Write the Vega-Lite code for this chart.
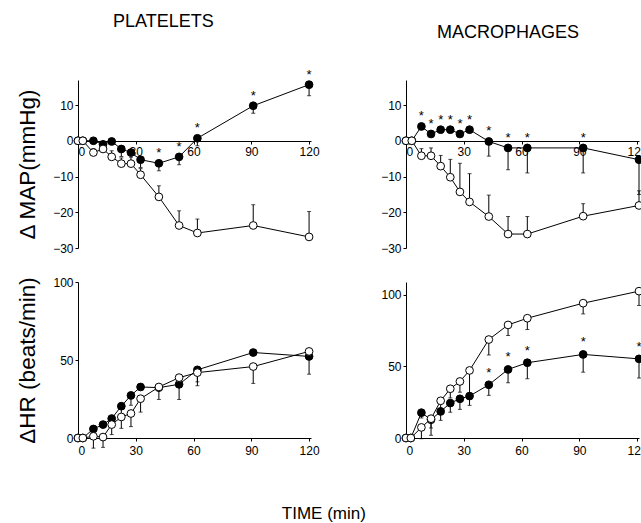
{
  "$schema": "https://vega.github.io/schema/vega-lite/v6.json",
  "padding": {"left": 16, "top": 12, "right": 2, "bottom": 4},
  "background": "white",
  "title": {"text": "TIME (min)", "orient": "bottom", "fontSize": 17, "offset": 50, "anchor": "middle", "dx": -8},
  "config": {
    "view": {"stroke": null},
    "font": "Liberation Sans",
    "axis": {"grid": false, "domainColor": "black", "tickColor": "black", "labelColor": "black", "titleColor": "black",
             "labelFont": "Liberation Sans", "titleFont": "Liberation Sans", "labelFontSize": 12, "titleFontSize": 22.5,
             "titleFontWeight": "normal", "tickSize": 3, "labelPadding": 2, "domainWidth": 1},
    "title": {"font": "Liberation Sans", "fontSize": 18, "fontWeight": "normal", "color": "black"}
  },
  "datasets": {
    "d": [
      {"p":"TL","g":"f","t":0,"v":0},{"p":"TL","g":"f","t":2.5,"v":0},{"p":"TL","g":"f","t":8,"v":0},{"p":"TL","g":"f","t":13,"v":-1},
      {"p":"TL","g":"f","t":17.5,"v":-0.2},{"p":"TL","g":"f","t":22.5,"v":-2.3,"e":-4.4},{"p":"TL","g":"f","t":27.5,"v":-3.3},
      {"p":"TL","g":"f","t":32.5,"v":-5.3,"e":-7.5},{"p":"TL","g":"f","t":42,"v":-6.3,"e":-8.4,"s":"*"},
      {"p":"TL","g":"f","t":52.5,"v":-4.5,"e":-6.7,"s":"*"},{"p":"TL","g":"f","t":62,"v":0.7,"e":-1.4,"s":"*"},
      {"p":"TL","g":"f","t":91,"v":9.8,"e":7.7,"s":"*"},{"p":"TL","g":"f","t":120,"v":15.7,"e":12.6,"s":"*"},
      {"p":"TL","g":"o","t":0,"v":0},{"p":"TL","g":"o","t":2.5,"v":0},{"p":"TL","g":"o","t":8,"v":-3.3,"e":-2.2},{"p":"TL","g":"o","t":13,"v":-2.3},
      {"p":"TL","g":"o","t":17.5,"v":-4.5,"e":-2.8},{"p":"TL","g":"o","t":22.5,"v":-6.4,"e":-4.8},{"p":"TL","g":"o","t":27.5,"v":-6.4,"e":-4.6},
      {"p":"TL","g":"o","t":32.5,"v":-9.5,"e":-7.8},{"p":"TL","g":"o","t":42,"v":-15.7,"e":-12.6},{"p":"TL","g":"o","t":52.5,"v":-23.7,"e":-19.6},
      {"p":"TL","g":"o","t":62,"v":-25.8,"e":-21.9},{"p":"TL","g":"o","t":91,"v":-23.7,"e":-17.9},{"p":"TL","g":"o","t":120,"v":-26.9,"e":-19.8},

      {"p":"TR","g":"f","t":0,"v":0},{"p":"TR","g":"f","t":3,"v":0},{"p":"TR","g":"f","t":8,"v":4.0,"s":"*"},{"p":"TR","g":"f","t":13,"v":1.9,"s":"*"},
      {"p":"TR","g":"f","t":18,"v":3.1,"s":"*"},{"p":"TR","g":"f","t":23,"v":3.1,"s":"*"},{"p":"TR","g":"f","t":28,"v":1.9,"s":"*"},
      {"p":"TR","g":"f","t":33,"v":3.1,"s":"*"},{"p":"TR","g":"f","t":43,"v":-0.2,"e":-4.3,"s":"*"},{"p":"TR","g":"f","t":53,"v":-2.0,"e":-8.1,"s":"*"},
      {"p":"TR","g":"f","t":63,"v":-2.0,"e":-9,"s":"*"},{"p":"TR","g":"f","t":92,"v":-2.0,"e":-9,"s":"*"},{"p":"TR","g":"f","t":121,"v":-5.3,"e":-15},
      {"p":"TR","g":"o","t":0,"v":0},{"p":"TR","g":"o","t":3,"v":0},{"p":"TR","g":"o","t":8,"v":-4.2,"e":-2.2},{"p":"TR","g":"o","t":13,"v":-4.2,"e":-2},
      {"p":"TR","g":"o","t":18,"v":-7.1,"e":-4.1},{"p":"TR","g":"o","t":23,"v":-10.2,"e":-5.2},{"p":"TR","g":"o","t":28,"v":-14.3,"e":-6.3},
      {"p":"TR","g":"o","t":33,"v":-17.1,"e":-9.2},{"p":"TR","g":"o","t":43,"v":-21.2,"e":-15.2},{"p":"TR","g":"o","t":53,"v":-26.1,"e":-21.2},
      {"p":"TR","g":"o","t":63,"v":-26.1,"e":-21.2},{"p":"TR","g":"o","t":92,"v":-21.1,"e":-17.6},{"p":"TR","g":"o","t":121,"v":-18.1,"e":-14},

      {"p":"BL","g":"f","t":0,"v":0},{"p":"BL","g":"f","t":2.5,"v":0},{"p":"BL","g":"f","t":8,"v":5.8},{"p":"BL","g":"f","t":13,"v":8.6},
      {"p":"BL","g":"f","t":17.5,"v":12.5},{"p":"BL","g":"f","t":22.5,"v":20.4,"e":15},{"p":"BL","g":"f","t":27.5,"v":27.3,"e":21},
      {"p":"BL","g":"f","t":32.5,"v":32.7},{"p":"BL","g":"f","t":42,"v":32.3,"e":24.7},{"p":"BL","g":"f","t":52.5,"v":34.4,"e":24.7},
      {"p":"BL","g":"f","t":62,"v":43.7,"e":33.5},{"p":"BL","g":"f","t":91,"v":54.8},{"p":"BL","g":"f","t":120,"v":52.3,"e":40.9},
      {"p":"BL","g":"o","t":0,"v":0},{"p":"BL","g":"o","t":2.5,"v":0},{"p":"BL","g":"o","t":8,"v":1.1,"e":-6.5},{"p":"BL","g":"o","t":13,"v":0.6,"e":-6},
      {"p":"BL","g":"o","t":17.5,"v":8.6,"e":2.2},{"p":"BL","g":"o","t":22.5,"v":13.5,"e":6.2},{"p":"BL","g":"o","t":27.5,"v":15.7,"e":7.3},
      {"p":"BL","g":"o","t":32.5,"v":25.2,"e":16.6},{"p":"BL","g":"o","t":42,"v":32.7},{"p":"BL","g":"o","t":52.5,"v":38.7},
      {"p":"BL","g":"o","t":62,"v":41.9,"e":36},{"p":"BL","g":"o","t":91,"v":45.8,"e":35},{"p":"BL","g":"o","t":120,"v":55.5},

      {"p":"BR","g":"f","t":0,"v":0},{"p":"BR","g":"f","t":2.5,"v":0},{"p":"BR","g":"f","t":8,"v":17.7,"e":14},{"p":"BR","g":"f","t":13,"v":12.8,"e":7},
      {"p":"BR","g":"f","t":18,"v":18.6,"e":12.3},{"p":"BR","g":"f","t":23,"v":24.4,"e":18},{"p":"BR","g":"f","t":28,"v":27.4,"e":20},
      {"p":"BR","g":"f","t":33,"v":29.3,"e":22.8},{"p":"BR","g":"f","t":43,"v":37.2,"e":29.8,"s":"*"},{"p":"BR","g":"f","t":53,"v":47.9,"e":38.6,"s":"*"},
      {"p":"BR","g":"f","t":63,"v":52.6,"e":41.4,"s":"*"},{"p":"BR","g":"f","t":92,"v":58.4,"e":46,"s":"*"},{"p":"BR","g":"f","t":121,"v":55.3,"e":41.9,"s":"*"},
      {"p":"BR","g":"o","t":0,"v":0},{"p":"BR","g":"o","t":2.5,"v":0},{"p":"BR","g":"o","t":8,"v":7.4,"e":-0.5},{"p":"BR","g":"o","t":13,"v":13.5,"e":1.9},
      {"p":"BR","g":"o","t":18,"v":26,"e":19.5},{"p":"BR","g":"o","t":23,"v":34.4,"e":28},{"p":"BR","g":"o","t":28,"v":39.5,"e":32},
      {"p":"BR","g":"o","t":33,"v":47.2,"e":29.8},{"p":"BR","g":"o","t":43,"v":68.8,"e":58},{"p":"BR","g":"o","t":53,"v":79,"e":71.6},
      {"p":"BR","g":"o","t":63,"v":83.7,"e":75.8},{"p":"BR","g":"o","t":92,"v":94.2,"e":86.7},{"p":"BR","g":"o","t":121,"v":102.6,"e":92.6}
    ]
  },
  "data": {"name": "d"},
  "columns": 2,
  "spacing": {"row": 22, "column": 60},
  "concat": [
    {
      "width": 233, "height": 168,
      "title": {"text": "PLATELETS", "offset": 38, "anchor": "start", "frame": "group", "dx": 35},
      "transform": [{"filter": "datum.p === 'TL'"}],
      "encoding": {
        "x": {"field": "t", "type": "quantitative", "scale": {"domain": [0, 121], "nice": false},
              "axis": {"values": [0, 30, 60, 90, 120], "title": null, "offset": -107}},
        "y": {"field": "v", "type": "quantitative", "scale": {"domain": [-30, 17], "nice": false, "zero": false},
              "axis": {"values": [-30, -20, -10, 0, 10], "title": "Δ MAP(mmHg)", "titlePadding": 13}}
      },
      "layer": [
        {"transform": [{"filter": "isValid(datum.e)"}], "mark": {"type": "rule", "color": "black", "strokeWidth": 1}, "encoding": {"y2": {"field": "e"}}},
        {"transform": [{"filter": "isValid(datum.e)"}], "mark": {"type": "tick", "orient": "horizontal", "color": "black", "size": 4, "thickness": 1}, "encoding": {"y": {"field": "e", "type": "quantitative", "title": "Δ MAP(mmHg)"}}},
        {"mark": {"type": "line", "color": "black", "strokeWidth": 1}, "encoding": {"detail": {"field": "g"}}},
        {"mark": {"type": "point", "shape": "circle", "filled": true, "size": 60, "stroke": "black", "strokeWidth": 1, "opacity": 1},
         "encoding": {"fill": {"field": "g", "type": "nominal", "scale": {"domain": ["f", "o"], "range": ["black", "white"]}, "legend": null}}},
        {"transform": [{"filter": "datum.s === '*'"}], "mark": {"type": "text", "text": "*", "fontSize": 13, "dy": -10, "color": "black"}, "encoding": {}}
      ]
    },
    {
      "width": 233, "height": 168,
      "title": {"text": "MACROPHAGES", "offset": 38, "anchor": "start", "frame": "group", "dx": 31},
      "transform": [{"filter": "datum.p === 'TR'"}],
      "encoding": {
        "x": {"field": "t", "type": "quantitative", "scale": {"domain": [0, 121], "nice": false},
              "axis": {"values": [0, 30, 60, 90, 120], "title": null, "offset": -107}},
        "y": {"field": "v", "type": "quantitative", "scale": {"domain": [-30, 17], "nice": false, "zero": false},
              "axis": {"values": [-30, -20, -10, 0, 10], "title": null}}
      },
      "layer": [
        {"transform": [{"filter": "isValid(datum.e)"}], "mark": {"type": "rule", "color": "black", "strokeWidth": 1}, "encoding": {"y2": {"field": "e"}}},
        {"transform": [{"filter": "isValid(datum.e)"}], "mark": {"type": "tick", "orient": "horizontal", "color": "black", "size": 4, "thickness": 1}, "encoding": {"y": {"field": "e", "type": "quantitative", "title": null}}},
        {"mark": {"type": "line", "color": "black", "strokeWidth": 1}, "encoding": {"detail": {"field": "g"}}},
        {"mark": {"type": "point", "shape": "circle", "filled": true, "size": 60, "stroke": "black", "strokeWidth": 1, "opacity": 1},
         "encoding": {"fill": {"field": "g", "type": "nominal", "scale": {"domain": ["f", "o"], "range": ["black", "white"]}, "legend": null}}},
        {"transform": [{"filter": "datum.s === '*'"}], "mark": {"type": "text", "text": "*", "fontSize": 13, "dy": -10, "color": "black"}, "encoding": {}}
      ]
    },
    {
      "width": 233, "height": 156,
      "transform": [{"filter": "datum.p === 'BL'"}],
      "encoding": {
        "x": {"field": "t", "type": "quantitative", "scale": {"domain": [0, 121], "nice": false},
              "axis": {"values": [0, 30, 60, 90, 120], "title": null, "labelPadding": 4}},
        "y": {"field": "v", "type": "quantitative", "scale": {"domain": [0, 100], "nice": false},
              "axis": {"values": [0, 50, 100], "title": "ΔHR (beats/min)", "titlePadding": 13}}
      },
      "layer": [
        {"transform": [{"filter": "isValid(datum.e)"}], "mark": {"type": "rule", "color": "black", "strokeWidth": 1}, "encoding": {"y2": {"field": "e"}}},
        {"transform": [{"filter": "isValid(datum.e)"}], "mark": {"type": "tick", "orient": "horizontal", "color": "black", "size": 4, "thickness": 1}, "encoding": {"y": {"field": "e", "type": "quantitative", "title": "ΔHR (beats/min)"}}},
        {"mark": {"type": "line", "color": "black", "strokeWidth": 1}, "encoding": {"detail": {"field": "g"}}},
        {"mark": {"type": "point", "shape": "circle", "filled": true, "size": 60, "stroke": "black", "strokeWidth": 1, "opacity": 1},
         "encoding": {"fill": {"field": "g", "type": "nominal", "scale": {"domain": ["f", "o"], "range": ["black", "white"]}, "legend": null}}}
      ]
    },
    {
      "width": 233, "height": 156,
      "transform": [{"filter": "datum.p === 'BR'"}],
      "encoding": {
        "x": {"field": "t", "type": "quantitative", "scale": {"domain": [0, 121], "nice": false},
              "axis": {"values": [0, 30, 60, 90, 120], "title": null, "labelPadding": 4}},
        "y": {"field": "v", "type": "quantitative", "scale": {"domain": [0, 109], "nice": false},
              "axis": {"values": [0, 50, 100], "title": null}}
      },
      "layer": [
        {"transform": [{"filter": "isValid(datum.e)"}], "mark": {"type": "rule", "color": "black", "strokeWidth": 1}, "encoding": {"y2": {"field": "e"}}},
        {"transform": [{"filter": "isValid(datum.e)"}], "mark": {"type": "tick", "orient": "horizontal", "color": "black", "size": 4, "thickness": 1}, "encoding": {"y": {"field": "e", "type": "quantitative", "title": null}}},
        {"mark": {"type": "line", "color": "black", "strokeWidth": 1}, "encoding": {"detail": {"field": "g"}}},
        {"mark": {"type": "point", "shape": "circle", "filled": true, "size": 60, "stroke": "black", "strokeWidth": 1, "opacity": 1},
         "encoding": {"fill": {"field": "g", "type": "nominal", "scale": {"domain": ["f", "o"], "range": ["black", "white"]}, "legend": null}}},
        {"transform": [{"filter": "datum.s === '*'"}], "mark": {"type": "text", "text": "*", "fontSize": 13, "dy": -12, "color": "black"}, "encoding": {}}
      ]
    }
  ]
}
